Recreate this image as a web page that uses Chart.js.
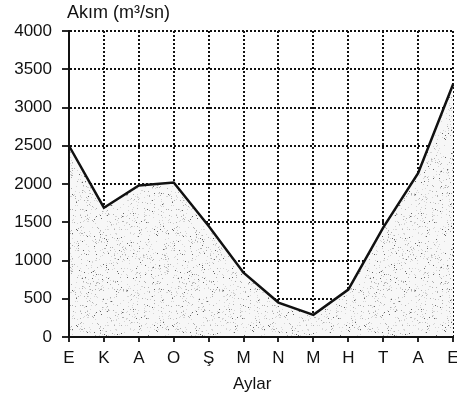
<!DOCTYPE html>
<html><head><meta charset="utf-8">
<script src="https://cdn.jsdelivr.net/npm/chart.js@4"></script>
<style>html,body{margin:0;padding:0;background:#fff;} canvas{display:block;}</style>
</head><body>
<canvas id="c" width="457" height="399"></canvas>
<script>
// ---- data ----
const months = ['E','K','A','O','Ş','M','N','M','H','T','A','E'];
const flow = [2500, 1690, 1980, 2020, 1450, 840, 450, 290, 620, 1430, 2140, 3300];
const yTickValues = [0, 500, 1000, 1500, 2000, 2500, 3000, 3500, 4000];
const yTitle = 'Akım (m³/sn)';
const xTitle = 'Aylar';

const FONT = '"Liberation Sans", Arial, Helvetica, sans-serif';
const canvas = document.getElementById('c');
const ctx = canvas.getContext('2d');

// stipple texture for the area fill (deterministic)
function makePattern(){
  const n = 96;
  const p = document.createElement('canvas'); p.width = n; p.height = n;
  const g = p.getContext('2d');
  g.fillStyle = '#f7f7f7'; g.fillRect(0, 0, n, n);
  let s = 987654;
  const rnd = () => { s = (s * 1103515245 + 12345) & 0x7fffffff; return s / 0x7fffffff; };
  for (let i = 0; i < 800; i++) {
    const x = Math.floor(rnd() * n), y = Math.floor(rnd() * n), v = rnd();
    g.fillStyle = v < 0.12 ? '#666666' : (v < 0.45 ? '#b0b0b0' : '#d6d6d6');
    g.fillRect(x, y, 1, 1);
  }
  return ctx.createPattern(p, 'repeat');
}

const titles = {
  id: 'titles',
  afterDraw(chart) {
    const c = chart.ctx, a = chart.chartArea;
    c.save();
    c.fillStyle = '#111';
    c.textBaseline = 'middle';
    c.font = '18px ' + FONT;
    c.textAlign = 'left';
    c.fillText(yTitle, a.left - 2, 13);
    c.font = '17px ' + FONT;
    c.textAlign = 'center';
    c.fillText(xTitle, a.left + (a.right - a.left) * 0.477, 384);
    c.restore();
  }
};

new Chart(ctx, {
  type: 'line',
  data: {
    labels: months,
    datasets: [{
      data: flow,
      borderColor: '#111',
      borderWidth: 2.5,
      pointRadius: 0,
      tension: 0,
      fill: 'origin',
      backgroundColor: makePattern()
    }]
  },
  options: {
    responsive: false,
    animation: false,
    events: [],
    layout: { padding: { top: 31, right: 4, left: 0, bottom: 0 } },
    plugins: { legend: { display: false }, tooltip: { enabled: false }, title: { display: false } },
    scales: {
      x: {
        offset: false,
        grid: { color: '#111', lineWidth: 2, tickLength: 5, tickWidth: 1.8, tickColor: '#111', tickBorderDash: [] },
        border: { display: true, color: '#111', width: 2, dash: [2, 2], z: 1 },
        ticks: { color: '#111', font: { family: FONT, size: 17 }, padding: 6, maxRotation: 0, autoSkip: false },
        afterFit(s) { s.height = 62; s.paddingLeft = 0; s.paddingRight = 0; }
      },
      y: {
        min: 0, max: 4000,
        afterBuildTicks(s) { s.ticks = yTickValues.map(v => ({ value: v })); },
        grid: { color: '#111', lineWidth: 2, tickLength: 7, tickWidth: 1.8, tickColor: '#111', tickBorderDash: [] },
        border: { display: true, color: '#111', width: 2, dash: [2, 2], z: 1 },
        ticks: { color: '#111', font: { family: FONT, size: 17 }, padding: 10, callback: v => String(v) },
        afterFit(s) { s.width = 69; }
      }
    }
  },
  plugins: [titles]
});
</script>
</body></html>
